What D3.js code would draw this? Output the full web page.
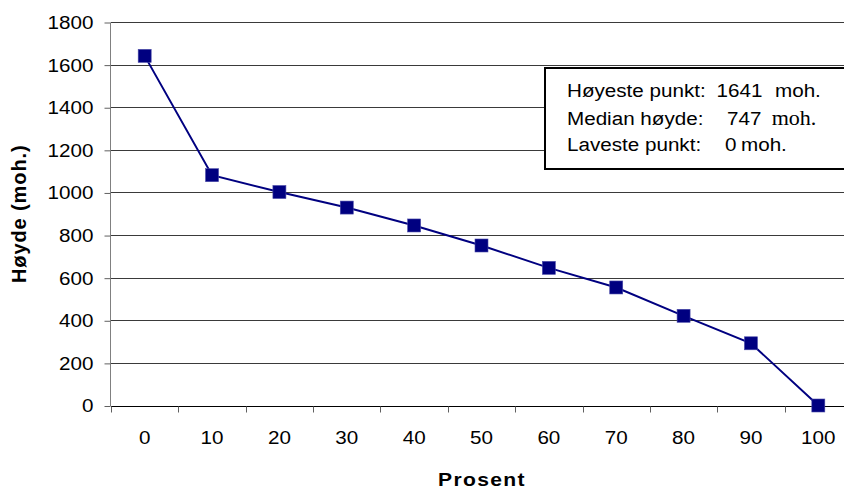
<!DOCTYPE html>
<html><head><meta charset="utf-8">
<script src="https://cdn.jsdelivr.net/npm/d3@7/dist/d3.min.js"></script>
<style>body{margin:0;background:#fff;overflow:hidden}</style></head>
<body><svg id="c" width="844" height="488"></svg>
<script>
// ---- data ----
const categories = ["0","10","20","30","40","50","60","70","80","90","100"];
const heights = [1641, 1081, 1002, 929, 845, 751, 646, 554, 421, 292, 0];
const yTicks = [0,200,400,600,800,1000,1200,1400,1600,1800];
const legendLabels = ["Høyeste punkt:", "Median høyde:", "Laveste punkt:"];
const legendValues = ["1641", "747", "0"];
const legendUnit = "moh.";
const xTitle = "Prosent";
const yTitle = "Høyde (moh.)";

// ---- layout ----
const svg = d3.select("#c");
const FONT = "'Liberation Sans', Arial, sans-serif";
const SX = 1.11; // horizontal glyph stretch seen in the reference
const x = d3.scaleBand().domain(categories).range([111, 852]);
const y = d3.scaleLinear().domain([0, 1800]).range([405.5, 22]);
const crisp = v => Math.round(v) + 0.5;

// stretch texts horizontally around their anchor point
function stretch(sel, sx) {
  sel.each(function () {
    const t = d3.select(this);
    const tx = +t.attr("x") || 0, ty = +t.attr("y") || 0;
    t.attr("x", 0).attr("y", 0).attr("transform", `translate(${tx},${ty}) scale(${sx},1)`);
  });
}

// gridlines
svg.append("g").selectAll("line").data(yTicks.filter(t => t > 0)).join("line")
  .attr("x1", 111).attr("x2", 852)
  .attr("y1", d => crisp(y(d))).attr("y2", d => crisp(y(d)))
  .attr("stroke", "#3a3a3a").attr("stroke-width", 1);

// y axis
const yAxis = svg.append("g").attr("transform", "translate(110.5,0.5)")
  .call(d3.axisLeft(y).tickValues(yTicks).tickFormat(d3.format("d"))
    .tickSize(6).tickPadding(11).tickSizeOuter(0));
yAxis.select(".domain").attr("stroke", "#808080").attr("d", `M0,${y(1800)}V${y(0)}`);
yAxis.selectAll(".tick line").attr("stroke", "#606060");
yAxis.selectAll(".tick text").attr("font-family", FONT).attr("font-size", 18.6).attr("fill", "#000");
stretch(yAxis.selectAll(".tick text"), SX);

// x axis (labels centered, ticks at band boundaries)
const xAxis = svg.append("g").attr("transform", `translate(0,${crisp(y(0))})`)
  .call(d3.axisBottom(x).tickSize(0).tickPadding(24.5));
xAxis.select(".domain").attr("stroke", "#000").attr("d", "M111,0H852");
xAxis.selectAll(".tick text").attr("font-family", FONT).attr("font-size", 18.6)
  .attr("fill", "#000").attr("dy", "0.71em");
stretch(xAxis.selectAll(".tick text"), SX);
const bounds = categories.map(c => x(c)).concat([x.range()[1]]);
xAxis.append("g").selectAll("line").data(bounds).join("line")
  .attr("x1", d => crisp(d)).attr("x2", d => crisp(d))
  .attr("y1", 0).attr("y2", 6).attr("stroke", "#606060");

// line
const line = d3.line().x((d, i) => x(categories[i]) + x.bandwidth() / 2).y(d => y(d));
svg.append("path").datum(heights).attr("d", line)
  .attr("fill", "none").attr("stroke", "#000080").attr("stroke-width", 2);

// markers
svg.append("g").selectAll("rect").data(heights).join("rect")
  .attr("x", (d, i) => x(categories[i]) + x.bandwidth() / 2 - 6.5)
  .attr("y", d => y(d) - 6.5)
  .attr("width", 13).attr("height", 13)
  .attr("fill", "#000080").attr("stroke", "#4a4aa8").attr("stroke-width", 0.6);

// axis titles
const xt = svg.append("text").attr("x", 482).attr("y", 485.5).attr("text-anchor", "middle")
  .attr("font-family", FONT).attr("font-weight", "bold").attr("font-size", 19)
  .attr("letter-spacing", 1.2).text(xTitle);
stretch(xt, SX);
svg.append("text").attr("transform", `translate(26,${(y(0) + y(1800)) / 2}) rotate(-90)`)
  .attr("text-anchor", "middle")
  .attr("font-family", FONT).attr("font-weight", "bold").attr("font-size", 20)
  .attr("letter-spacing", 0.9).text(yTitle);

// legend box
const lg = svg.append("g");
lg.append("rect").attr("x", 545).attr("y", 68).attr("width", 320).attr("height", 101)
  .attr("fill", "#fff").attr("stroke", "#000").attr("stroke-width", 2);
const baselines = [97.3, 125, 150.7];
const valueX = [716.5, 727, 725];
const unitX = [775, 771.7, 741];
legendLabels.forEach((lab, i) => {
  const a = lg.append("text").attr("x", 567).attr("y", baselines[i])
    .attr("font-family", FONT).attr("font-size", 18.6).text(lab);
  const b = lg.append("text").attr("x", valueX[i]).attr("y", baselines[i])
    .attr("font-family", FONT).attr("font-size", 18.6).text(legendValues[i]);
  const c = lg.append("text").attr("x", unitX[i]).attr("y", baselines[i])
    .attr("font-family", i === 1 ? "'Liberation Serif', 'Times New Roman', serif" : FONT)
    .attr("font-size", i === 1 ? 21 : 18.6)
    .text(legendUnit);
  stretch(a, SX); stretch(b, SX); stretch(c, i === 1 ? 1.05 : SX);
});
</script></body></html>
